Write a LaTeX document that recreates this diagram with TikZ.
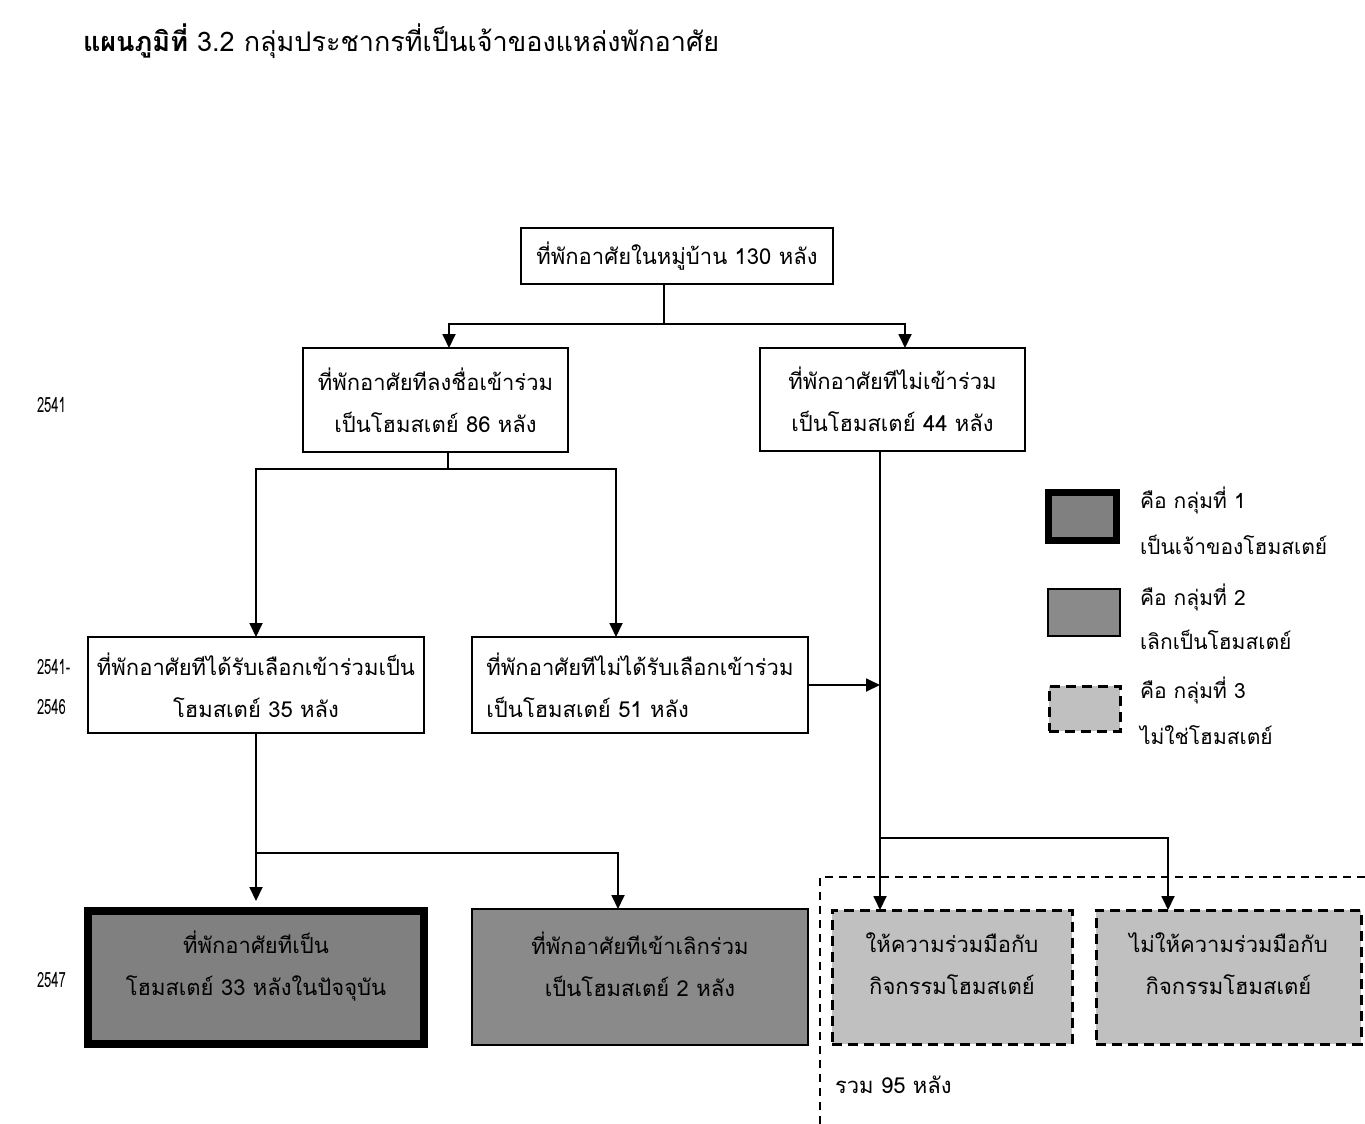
\documentclass[tikz,border=0pt]{standalone}
\usepackage{fontspec}
\setmainfont[Script=Thai]{Loma}
\newfontfamily\narrowloma[Script=Thai, FakeStretch=0.62]{Loma}
\usetikzlibrary{arrows.meta}
\definecolor{gone}{HTML}{808080}
\definecolor{gtwo}{HTML}{8A8A8A}
\definecolor{gthree}{HTML}{C0C0C0}
\begin{document}
\begin{tikzpicture}[x=1pt,y=-1pt,
  every node/.style={inner sep=0pt, outer sep=0pt},
  txt/.style={font=\fontsize{22}{42}\selectfont, align=center},
  yeartxt/.style={font=\narrowloma\fontsize{21}{24}\selectfont, anchor=west},
  legtxt/.style={font=\fontsize{21}{24}\selectfont, anchor=west},
  box/.style={draw, line width=1.8pt, txt},
  grpone/.style={draw, line width=8pt, fill=gone},
  grptwo/.style={draw, line width=1.8pt, fill=gtwo},
  grpthree/.style={draw, line width=3pt, dash pattern=on 10pt off 6pt, fill=gthree},
  conn/.style={line width=1.8pt},
  arr/.style={conn, -{Triangle[length=14pt,width=13pt]}},
  region/.style={line width=2pt, dash pattern=on 8pt off 6pt}
]
\useasboundingbox (0,0) rectangle (1365,1124);

% title
\node[anchor=west, font=\fontsize{27}{30}\selectfont] (title) at (83,41)
  {{\bfseries แผนภูมิที่} 3.2 กลุ่มประชากรที่เป็นเจ้าของแหล่งพักอาศัย};

% years
\node[yeartxt] (y1) at (37,405) {2541};
\node[yeartxt] (y2) at (37,667) {2541-};
\node[yeartxt] (y3) at (37,707) {2546};
\node[yeartxt] (y4) at (37,980) {2547};

% boxes
\node[box, minimum width=312pt, minimum height=56pt] (T) at (677,256) {ที่พักอาศัยในหมู่บ้าน 130 หลัง};
\node[box, minimum width=265pt, minimum height=104pt] (A) at (435.5,400) {ที่พักอาศัยทีลงชื่อเข้าร่วม\\เป็นโฮมสเตย์ 86 หลัง};
\node[box, minimum width=265pt, minimum height=103pt] (B) at (892.5,399.5) {ที่พักอาศัยทีไม่เข้าร่วม\\เป็นโฮมสเตย์ 44 หลัง};
\node[box, minimum width=336pt, minimum height=96pt] (C) at (256,685) {ที่พักอาศัยทีได้รับเลือกเข้าร่วมเป็น\\โฮมสเตย์ 35 หลัง};
\node[box, minimum width=336pt, minimum height=96pt, align=left] (D) at (640,685) {ที่พักอาศัยทีไม่ได้รับเลือกเข้าร่วม\\เป็นโฮมสเตย์ 51 หลัง};

\node[grpone, minimum width=336pt, minimum height=133pt] (E) at (256,977.5) {};
\node[grptwo, minimum width=336pt, minimum height=136pt] (F) at (640,977) {};
\node[grpthree, minimum width=240pt, minimum height=134pt] (G) at (952,977) {};
\node[grpthree, minimum width=265pt, minimum height=134pt] (H) at (1228.5,977) {};

\node[txt] (Et) at ([yshift=11pt]E.center) {ที่พักอาศัยทีเป็น\\โฮมสเตย์ 33 หลังในปัจจุบัน};
\node[txt] (Ft) at ([yshift=13pt]F.center) {ที่พักอาศัยทีเข้าเลิกร่วม\\เป็นโฮมสเตย์ 2 หลัง};
\node[txt] (Gt) at ([yshift=13pt]G.center) {ให้ความร่วมมือกับ\\กิจกรรมโฮมสเตย์};
\node[txt] (Ht) at ([yshift=13pt]H.center) {ไม่ให้ความร่วมมือกับ\\กิจกรรมโฮมสเตย์};

% region of group 3
\coordinate (r1) at (1365,877);
\coordinate (r2) at (820,877);
\coordinate (r3) at (820,1124);
\draw[region] (r1) -- (r2) -- (r3);
\node[anchor=west, font=\fontsize{22}{26}\selectfont] (sum) at (835,1085) {รวม 95 หลัง};

% connectors
\coordinate (s1) at (664,324);
\draw[conn] (T.south -| s1) -- (s1);
\draw[arr] (s1) -| ([xshift=13.5pt]A.north);
\draw[arr] (s1) -| ([xshift=12.5pt]B.north);

\coordinate (s2) at (448,469);
\draw[conn] (s2 |- A.south) -- (s2);
\draw[arr] (s2) -| (C.north);
\draw[arr] (s2) -| ([xshift=-24pt]D.north);

\coordinate (s3) at (880,838);
\draw[conn] (s3 |- B.south) -- (s3);
\draw[arr] (D.east) -- (D.east -| s3);
\draw[arr] (s3) -- (s3 |- G.north);
\draw[arr] (s3) -| ([xshift=-60.5pt]H.north);

\coordinate (s4) at (256,853);
\draw[conn] (C.south) -- (s4);
\draw[arr] (s4) -- ([yshift=10pt]E.north);
\draw[arr] (s4) -| ([xshift=-22pt]F.north);

% legend
\node[grpone, line width=7pt, minimum width=68pt, minimum height=48pt] (L1) at (1082.5,516.5) {};
\node[grptwo, minimum width=72pt, minimum height=47pt] (L2) at (1084,612.5) {};
\node[grpthree, minimum width=71pt, minimum height=45pt] (L3) at (1084.5,708.5) {};
\node[legtxt] (l1a) at (1140,500) {คือ กลุ่มที่ 1};
\node[legtxt] (l1b) at (1140,545) {เป็นเจ้าของโฮมสเตย์};
\node[legtxt] (l2a) at (1140,597) {คือ กลุ่มที่ 2};
\node[legtxt] (l2b) at (1140,640) {เลิกเป็นโฮมสเตย์};
\node[legtxt] (l3a) at (1140,690) {คือ กลุ่มที่ 3};
\node[legtxt] (l3b) at (1140,735) {ไม่ใช่โฮมสเตย์};
\end{tikzpicture}
\end{document}
